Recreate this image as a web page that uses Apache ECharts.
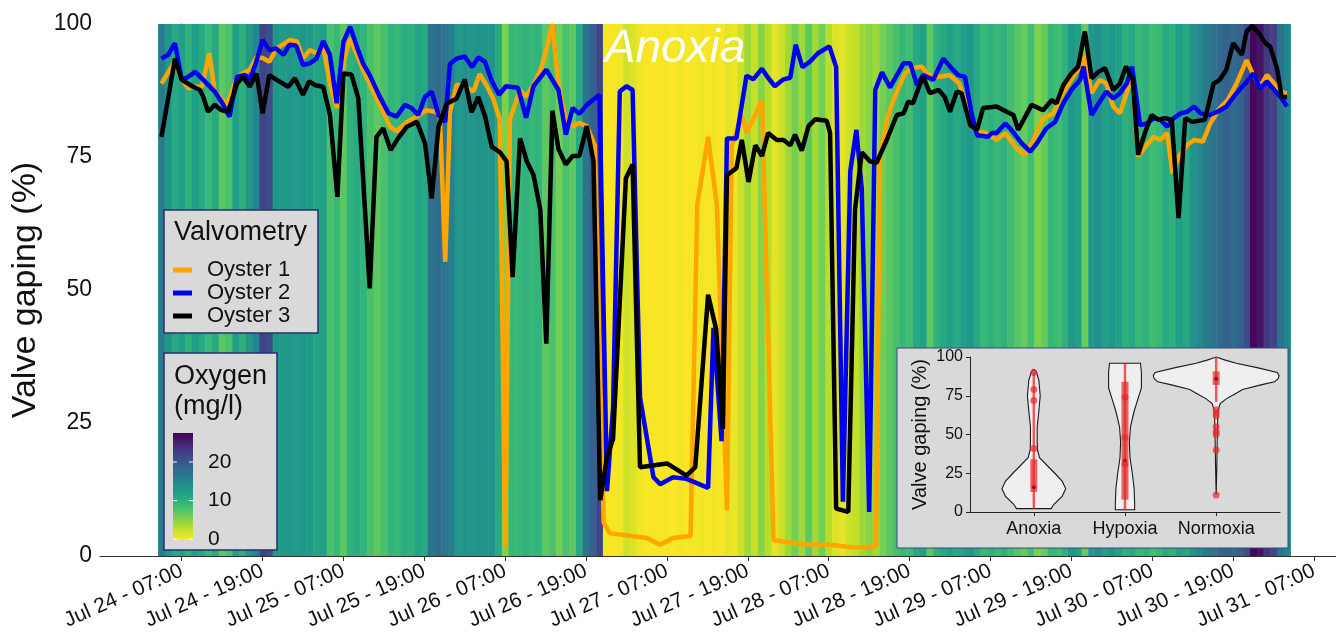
<!DOCTYPE html>
<html>
<head>
<meta charset="utf-8">
<script src="https://cdn.jsdelivr.net/npm/echarts@6/dist/echarts.min.js"></script>
<style>
  html, body { margin: 0; padding: 0; background: #fff; }
  #chart { width: 1336px; height: 638px; }
</style>
</head>
<body>
<div id="chart"></div>
<script>
// time is in hours counted from Jul 24 07:00
const tickHours = [0, 12, 24, 36, 48, 60, 72, 84, 96, 108, 120, 132, 144, 156, 168];
const tickLabels = ['Jul 24 - 07:00', 'Jul 24 - 19:00', 'Jul 25 - 07:00', 'Jul 25 - 19:00',
  'Jul 26 - 07:00', 'Jul 26 - 19:00', 'Jul 27 - 07:00', 'Jul 27 - 19:00', 'Jul 28 - 07:00',
  'Jul 28 - 19:00', 'Jul 29 - 07:00', 'Jul 29 - 19:00', 'Jul 30 - 07:00', 'Jul 30 - 19:00',
  'Jul 31 - 07:00'];

// hourly oxygen (mg/l), first reading centred on hour -3
const oxyStart = -3;
const oxygen = [16, 13, 11, 12, 10, 12, 11, 9, 11, 7, 8, 12, 10, 13, 15, 22, 21, 13, 12.5, 13,
  12.5, 13, 12.5, 11.5, 12, 8, 9, 7, 10, 10.5, 9.5, 8, 7, 8, 9.5, 9, 10.5, 10, 11.5, 11,
  17, 18, 17, 15.5, 13, 13.5, 13, 13.5, 13, 13.5, 11, 5.5, 9, 9, 10, 9, 9.5, 7, 8, 6,
  8, 7, 11, 17, 19, 22,
  0.3, 0.2, 0.5, 2, 1.5, 0.5, 0.2, 0.2, 0.3, 0.2, 0.1, 0.5, 0.2, 0.2, 0.5, 0.2, 0.5, 0.2, 1, 0.8,
  2, 4, 2.5, 5, 3, 1, 2, 4, 6, 4, 7, 4, 6, 3, 1.5, 1, 2, 2.5, 4, 5, 4,
  6, 7, 8, 9, 8.5, 11, 12, 7, 10, 11, 12, 11, 12, 13, 11, 9, 10, 9, 10, 8.5,
  7.5, 6.5, 8.5, 5.5, 6.5, 9, 8.5, 10, 13, 12, 6.5, 13, 14, 12, 13, 12, 10, 11, 9, 10,
  8.5, 9, 11, 10, 12, 11, 13.5, 14.5, 16, 17, 18, 19, 18, 19, 21, 27, 26, 23, 22, 17, 15];
const oxyMax = 27.5;
const oxyTicks = [0, 10, 20];
const viridis = ['#fde725', '#b5de2b', '#6ece58', '#35b779', '#1f9e89', '#26828e',
  '#31688e', '#3e4a89', '#482878', '#440154'];

const oyster1 = [[-3,88.8],[-1,93],[0,89.5],[1,87.9],[2,88.2],[3,88.2],[4.1,94.5],[4.9,87.3],[6.7,84.8],[8.2,90.1],[10.1,91.4],[11.1,93.8],[12,93.6],[13,92.9],[14.1,95.4],[16.1,97],[17.1,96.7],[18,93.5],[19,95.1],[20,94.5],[21,95.7],[22,88.8],[23,84.2],[24,92.9],[25,97.3],[26.9,91.4],[29.4,84.8],[30.9,80.7],[31.9,79.8],[33.4,81.6],[34.9,82.6],[36.3,83.8],[37.6,83.5],[38.3,82.9],[39.1,55.3],[39.8,83.4],[40.8,88.6],[42,88.3],[43.3,87.3],[44.2,90.6],[45.3,88.3],[46.2,86],[47.2,82.1],[48,1.7],[48.7,82.1],[50.2,87.6],[51.1,86.3],[52.2,88.6],[53.2,91.2],[54.1,95.1],[55,100],[55.9,88.3],[57,82.1],[58.1,80.8],[59,81.4],[60.1,80.8],[61.3,77.2],[62.6,6.3],[63.5,4.3],[67,3.7],[69,3.4],[71,2.1],[72.9,3.4],[74.9,3.7],[75.5,3.7],[76.5,66],[78.1,78.8],[79.4,66],[80.9,8.6],[81.6,77],[83.1,82.9],[83.8,79.5],[85.1,82.9],[86.1,85.7],[87.8,3],[92,2.2],[96,2.1],[100,1.6],[103,1.8],[103.6,75.6],[104.8,82.7],[105.6,85.7],[107.3,90.7],[108.3,91.7],[109.8,92],[110.8,90.4],[112.5,90.1],[113.9,90.4],[115.4,88.8],[117,82.3],[118,79.8],[119.4,79.5],[120.9,78.2],[122.2,79.5],[123.9,76.6],[125.1,75.4],[126.4,78.2],[127.8,82.3],[129.3,83.2],[130.6,86.7],[132,89.5],[133.3,92],[134,93.9],[135,87],[136.2,89.5],[137.2,88.8],[138.2,84.5],[139.2,83.2],[140.2,87],[141,90.7],[141.9,75.1],[143.2,77.3],[144.2,78.8],[145.2,78.2],[146.2,79.5],[147,71.9],[147.9,75.1],[149.2,77.3],[150.2,78.2],[151.5,77.9],[152.6,81.3],[154,84.2],[155.2,85.7],[156.5,88.8],[158,93.2],[159,90.4],[160,88.2],[161,90.4],[162.3,88.5],[163.5,87],[164,87]];

const oyster2 = [[-3,93.5],[-2,94.2],[-1,96.4],[0,89.5],[1,90.1],[2,91],[3.2,89.5],[4.9,87.3],[5.9,85.4],[7.1,82.6],[8.2,90.1],[9.4,90.4],[10.1,89.5],[11,92.6],[12,97],[13,95.1],[14,95.4],[15.1,94.2],[16,96.1],[17,95.9],[18,92.3],[19,92.6],[20,93.5],[21,96.8],[22,94.2],[23,85.1],[24,96.7],[25,99.5],[26,95.7],[26.9,92.6],[27.9,90.4],[29.4,86.3],[30.7,83.2],[31.9,82.6],[33.1,84.8],[34.1,84.2],[35.1,82.9],[36.1,86.3],[37.1,87.3],[38.1,82.9],[39.1,81.6],[39.8,92.5],[40.8,93.5],[42,93.9],[43.1,91.9],[44,93.7],[45,92.9],[46,89.3],[47.1,86.7],[48.1,88.3],[49.9,88],[51.1,82.4],[52.2,88.3],[54.1,91.4],[55.9,87.6],[57,79.2],[58,84.2],[59,83.1],[60.1,84.8],[62,86.7],[63.1,12.2],[64,27.9],[65,87.3],[66,88.3],[66.9,87.6],[68,29.8],[70,14.8],[71,13.5],[72.9,14.8],[74.9,14.5],[78.1,12.8],[78.9,42.9],[80.1,21.6],[80.9,78.5],[82.3,78.5],[83.8,90.3],[84.8,89.6],[86.1,91.6],[87,89.9],[88,88.3],[89.3,89.6],[90.3,89.9],[91.1,96.1],[92.1,91.9],[93.2,92.9],[94.4,94.5],[96.1,95.8],[97.1,91.9],[98.1,10.2],[99.2,72.3],[100.1,80.1],[100.9,69],[102,8.3],[102.9,87.6],[103.9,90.9],[105.1,88.1],[107.1,92.6],[108.1,92.6],[109.1,88.5],[110,90.4],[111.5,89.5],[113,93.5],[114.2,91.7],[115.2,90.4],[116.2,90.1],[117.2,83.2],[118,79.1],[119.6,78.8],[120.2,79.5],[120.9,79.5],[122.2,81.3],[123.1,80.1],[124.6,77.6],[125.9,76],[126.9,77.6],[128.3,80.4],[129.6,81.6],[130.8,85.1],[132,87.6],[133.3,89.5],[133.8,92],[135,82.9],[136.2,85.4],[137.2,87.3],[138.2,86],[139.2,87],[140.2,88.8],[141,92],[142.2,81],[143.2,81.3],[144.2,82.3],[145.2,82],[146.2,80.7],[147.2,82.3],[148.2,83.2],[149.2,83.5],[150.2,84.5],[151.2,83.2],[152.5,82.9],[153.7,83.5],[155,84.5],[156.5,87],[157.8,88.8],[159,90.7],[160,87.9],[161,89.2],[162.3,87.3],[163.2,86],[164,84.5]];

const oyster3 = [[-3,78.8],[-1,93.5],[0,89.5],[1.7,88.2],[2.7,87.6],[3.2,86.3],[3.9,83.5],[4.9,84.8],[5.9,83.8],[6.9,83.5],[8.2,88.8],[9.1,90.1],[10.1,88.2],[11.1,90.7],[12,83.2],[13,90.4],[14.1,89.5],[15.8,88.2],[16.8,89.8],[18,86.7],[18.9,89.2],[19.8,88.5],[21,88.2],[22,82.9],[23.1,67.5],[24,90.7],[25.2,90.5],[26.2,86],[27.9,50.3],[28.9,78.8],[29.9,80.4],[31,76.3],[32.1,78.5],[33.4,80.7],[34.9,81.6],[36.1,77.6],[37.1,67.2],[38.1,80.7],[39.3,85],[40.8,86],[42,89.6],[43,83.4],[44,86.3],[45,82.7],[46,76.9],[47.2,75.9],[48.2,74.2],[49.1,52.4],[50.2,78.5],[51.2,74.2],[52.2,71.6],[53.2,65.1],[54.1,39.9],[55,83.7],[55.9,76.5],[57,73.6],[58,75.2],[59,75.2],[60.1,80.8],[61.1,74.2],[62.1,10.5],[63.1,18.7],[64,22],[65.9,71],[66.9,73.6],[68,16.7],[72,17.4],[74.9,15.1],[76.2,16.7],[78.1,49.1],[79.3,42.6],[80.3,23.9],[80.9,71.6],[82.3,72.9],[83.1,78.2],[84.1,70.3],[85.1,77.2],[86.1,75.2],[87,79.5],[88.3,78.2],[89.3,78.2],[90.3,77.2],[91,79.2],[92,76.2],[93,80.8],[94,82.1],[95.7,81.8],[96.2,79.5],[97.1,8.9],[98.9,8.3],[99.9,65.1],[100.9,75.9],[102.1,74.2],[103.1,73.9],[104.6,78.2],[106.1,82.9],[107.1,83.2],[107.8,85.4],[108.5,85.1],[109.3,87.9],[110,90.1],[111,87],[112.3,87.6],[113.2,86.3],[114,83.5],[115,87.3],[115.7,87],[117,81],[118,80.1],[118.9,84.2],[120.9,84.5],[122.4,83.5],[123.4,82.9],[124.1,80.1],[126.1,84.8],[127.8,83.8],[129.1,85.7],[129.8,85.1],[130.8,88.5],[132,90.7],[133,92],[134,98.6],[135,89.8],[136,91],[137,91.7],[138.2,87.6],[139.2,88.8],[140.1,92],[141.1,89.5],[141.9,75.4],[142.9,79.5],[143.9,82.9],[144.9,82],[145.9,82.3],[146.9,82],[147.9,63.5],[148.9,82.3],[149.9,81.6],[151.8,82],[153.1,88.8],[154,89.5],[155,91.4],[156,96.4],[157.3,94.2],[158,98.6],[158.8,99.6],[159.8,98.3],[160.8,96.4],[161.5,95.7],[162.5,91.7],[163.2,86.3],[164,86.3]];

// inset: violin outlines as [gaping, half width in category units]
const groups = ['Anoxia', 'Hypoxia', 'Normoxia'];
const violinAnoxia = [[2.2,0.19],[5,0.22],[10,0.31],[15,0.35],[20,0.31],[25,0.23],[30,0.146],[35,0.062],[40,0.04],[45,0.037],[55,0.037],[65,0.055],[75,0.07],[85,0.055],[90,0.03],[92,0]];
const violinHypoxia = [[1.5,0.106],[5,0.106],[15,0.1],[25,0.08],[35,0.055],[45,0.048],[55,0.06],[65,0.1],[72,0.137],[80,0.18],[90,0.18],[96,0.17]];
const violinNormoxia = [[11,0],[30,0.007],[45,0.011],[55,0.015],[65,0.018],[70,0.044],[73,0.11],[76,0.2],[79,0.29],[82,0.49],[84,0.64],[86,0.68],[88,0.69],[90,0.67],[93,0.46],[96,0.22],[98,0.1],[100,0]];
const violins = [violinAnoxia, violinHypoxia, violinNormoxia];
// [low, q1, median, q3, high]
const boxStats = [[2, 13, 16, 34, 90], [1, 8, 33, 84, 96], [71, 82, 86, 90.7, 100]];
const boxPoints = [[1,90],[1,79],[1,72],[1,41],[2,74],[2,48],[2,31],[3,66],[3,64],[3,62],[3,55],[3,52],[3,50],[3,40],[3,11]];

const FONT = '"Liberation Sans", Arial, sans-serif';
const myChart = echarts.init(document.getElementById('chart'));

function legendBox(x, y, w, h) {
    return {
        type: 'rect', z: 10, silent: true,
        shape: { x: x, y: y, width: w, height: h },
        style: { fill: '#d9d9d9', stroke: '#26306e', lineWidth: 1.5 }
    };
}
function label(x, y, text, size) {
    return {
        type: 'text', z: 11, silent: true, x: x, y: y,
        style: { text: text, fontSize: size, fontFamily: FONT, fill: '#111', verticalAlign: 'middle' }
    };
}

// colour bar of the oxygen legend
const barTop = 433, barBottom = 539.3, barX = 173;
const barStops = viridis.map((c, i) => ({ offset: 1 - i / (viridis.length - 1), color: c }));
const oxyLegend = [
    legendBox(164, 353, 113, 197),
    label(174, 377, 'Oxygen', 27),
    label(174, 407, '(mg/l)', 27),
    {
        type: 'rect', z: 11, silent: true,
        shape: { x: barX, y: barTop, width: 20, height: barBottom - barTop },
        style: { fill: new echarts.graphic.LinearGradient(0, 0, 0, 1, barStops) }
    }
];
oxyTicks.forEach(t => {
    const y = barBottom - t / oxyMax * (barBottom - barTop);
    oxyLegend.push(label(208, y, String(t), 21));
    oxyLegend.push({ type: 'line', z: 12, silent: true, shape: { x1: barX, y1: y, x2: barX + 4, y2: y }, style: { stroke: '#fff', lineWidth: 1 } });
    oxyLegend.push({ type: 'line', z: 12, silent: true, shape: { x1: barX + 16, y1: y, x2: barX + 20, y2: y }, style: { stroke: '#fff', lineWidth: 1 } });
});

function lineSeries(name, data, color, z) {
    return {
        name: name, type: 'line', data: data, z: z,
        showSymbol: false, symbol: 'none', silent: true,
        lineStyle: { color: color, width: 4.5 },
        itemStyle: { color: color }
    };
}

const option = {
    animation: false,
    textStyle: { fontFamily: FONT },
    grid: [
        { left: 100, right: 0, top: 24, bottom: 82, outerBoundsMode: 'none' },
        { left: 970, top: 357, width: 310, height: 155, outerBoundsMode: 'none' }
    ],
    xAxis: [
        {
            type: 'value', gridIndex: 0, min: -12.12, max: 171.26,
            axisLine: { lineStyle: { color: '#333', width: 1.2 } },
            axisTick: { customValues: tickHours, length: 5, lineStyle: { color: '#333' } },
            axisLabel: {
                customValues: tickHours, rotate: 24, fontSize: 21, color: '#111', margin: 14,
                formatter: v => tickLabels[tickHours.indexOf(v)]
            },
            splitLine: { show: false }
        },
        {
            type: 'value', gridIndex: 1, min: 0.3, max: 3.7, z: 25,
            axisLine: { lineStyle: { color: '#222', width: 1 } },
            axisTick: { customValues: [1, 2, 3], length: 4, lineStyle: { color: '#222' } },
            axisLabel: {
                customValues: [1, 2, 3], fontSize: 18, color: '#111', margin: 8,
                formatter: v => groups[v - 1]
            },
            splitLine: { show: false }
        }
    ],
    yAxis: [
        {
            type: 'value', gridIndex: 0, min: 0, max: 100, interval: 25,
            name: 'Valve gaping (%)', nameLocation: 'middle', nameGap: 56,
            nameTextStyle: { fontSize: 34, color: '#111' },
            axisLine: { show: true, lineStyle: { color: '#333', width: 1.2 } },
            axisTick: { show: true, length: 4, lineStyle: { color: '#333' } },
            axisLabel: { fontSize: 23, color: '#111', margin: 8 },
            splitLine: { show: false }
        },
        {
            type: 'value', gridIndex: 1, min: 0, max: 100, interval: 25, z: 25,
            name: 'Valve gaping (%)', nameLocation: 'middle', nameGap: 40,
            nameTextStyle: { fontSize: 20, color: '#111' },
            axisLine: { show: true, lineStyle: { color: '#222', width: 1 } },
            axisTick: { show: true, length: 4, lineStyle: { color: '#222' } },
            axisLabel: { fontSize: 16, color: '#111', margin: 7 },
            splitLine: { show: false }
        }
    ],
    visualMap: {
        show: false, type: 'continuous', seriesIndex: 0, dimension: 1,
        min: 0, max: oxyMax, inRange: { color: viridis }
    },
    legend: {
        data: ['Oyster 1', 'Oyster 2', 'Oyster 3'],
        orient: 'vertical', left: 173, top: 259, z: 30,
        icon: 'rect', itemWidth: 19, itemHeight: 5, itemGap: 1, padding: 0,
        textStyle: { fontSize: 22, color: '#111', padding: [0, 0, 0, 10] },
        selectedMode: false
    },
    graphic: [
        legendBox(164, 210, 154, 123),
        label(174, 233, 'Valvometry', 27),
        ...oxyLegend,
        {
            type: 'rect', z: 10, silent: true,
            shape: { x: 897, y: 348, width: 391, height: 200 },
            style: { fill: '#d9d9d9', stroke: '#3a4a7c', lineWidth: 1 }
        }
    ],
    series: [
        {
            name: 'oxygen', type: 'custom', z: 1, silent: true,
            data: oxygen.map((o, i) => [oxyStart + i, o]),
            encode: { x: 0 },
            renderItem: (params, api) => {
                const h = api.value(0);
                const a = api.coord([h - 0.5, 100]);
                const b = api.coord([h + 0.5, 0]);
                return {
                    type: 'rect',
                    shape: { x: a[0], y: a[1], width: b[0] - a[0] + 0.5, height: b[1] - a[1] },
                    style: { fill: api.visual('color') }
                };
            },
            markPoint: {
                silent: true, symbol: 'rect', symbolSize: 1,
                itemStyle: { color: 'rgba(0,0,0,0)' },
                label: { show: true, position: 'inside', formatter: 'Anoxia', color: '#fff', fontStyle: 'italic', fontSize: 46 },
                data: [{ coord: [73.2, 95.3] }]
            }
        },
        lineSeries('Oyster 1', oyster1, '#ffa500', 2),
        lineSeries('Oyster 2', oyster2, '#0000f0', 3),
        lineSeries('Oyster 3', oyster3, '#000000', 4),
        {
            name: 'violin', type: 'custom', xAxisIndex: 1, yAxisIndex: 1, z: 20, silent: true,
            data: groups.map((g, i) => [i + 1, 50]),
            renderItem: (params, api) => {
                const x = api.value(0);
                const prof = violins[params.dataIndex];
                const right = prof.map(p => api.coord([x + p[1], p[0]]));
                const left = prof.slice().reverse().map(p => api.coord([x - p[1], p[0]]));
                return {
                    type: 'polygon',
                    shape: { points: right.concat(left) },
                    style: { fill: '#efefef', stroke: '#1a1a1a', lineWidth: 1.1 }
                };
            }
        },
        {
            name: 'box', type: 'custom', xAxisIndex: 1, yAxisIndex: 1, z: 21, silent: true,
            data: boxStats.map((s, i) => [i + 1].concat(s)),
            renderItem: (params, api) => {
                const x = api.value(0);
                const lo = api.coord([x, api.value(1)]);
                const q1 = api.coord([x, api.value(2)]);
                const med = api.coord([x, api.value(3)]);
                const q3 = api.coord([x, api.value(4)]);
                const hi = api.coord([x, api.value(5)]);
                return {
                    type: 'group',
                    children: [
                        { type: 'line', shape: { x1: lo[0], y1: lo[1], x2: hi[0], y2: hi[1] }, style: { stroke: 'rgba(232,40,40,0.75)', lineWidth: 2.5 } },
                        { type: 'rect', shape: { x: q3[0] - 3.5, y: q3[1], width: 7, height: q1[1] - q3[1] }, style: { fill: 'rgba(232,40,40,0.7)' } },
                        { type: 'circle', shape: { cx: med[0], cy: med[1], r: 2 }, style: { fill: '#a01010' } }
                    ]
                };
            }
        },
        {
            name: 'points', type: 'scatter', xAxisIndex: 1, yAxisIndex: 1, z: 22, silent: true,
            data: boxPoints, symbolSize: 7,
            itemStyle: { color: 'rgba(232,40,40,0.85)' }
        }
    ]
};

myChart.setOption(option);
window.addEventListener('resize', myChart.resize);
</script>
</body>
</html>
